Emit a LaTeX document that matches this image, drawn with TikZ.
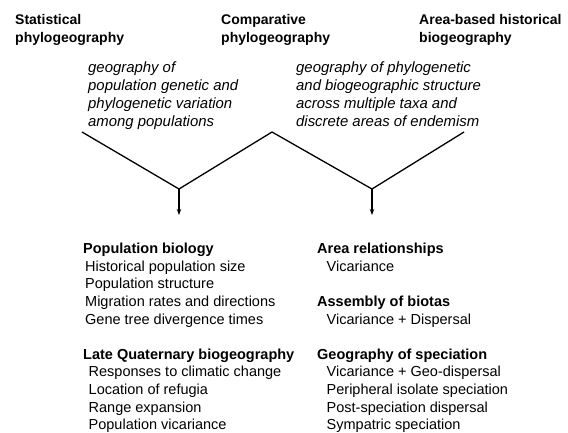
\documentclass[tikz,border=0pt]{standalone}
\usepackage{fontspec}
\setmainfont{Liberation Sans}
\usetikzlibrary{positioning,arrows.meta}
\begin{document}
\begin{tikzpicture}[x=1pt, y=1pt,
		title/.style={anchor=north west, inner sep=0pt, align=left, font=\fontsize{14}{18}\selectfont\bfseries},
		desc/.style={anchor=north west, inner sep=0pt, align=left, font=\fontsize{14.9}{18.3}\selectfont\itshape},
		topic/.style={anchor=north west, inner sep=0pt, align=left, font=\fontsize{14.5}{17.6}\selectfont},
		branch/.style={line width=1.3pt, line join=miter},
		down/.style={line width=1.3pt, -{Stealth[length=6pt, width=4.5pt]}}]
		\useasboundingbox (0,0) rectangle (568,-432);

		\node[title] (stat) at (15,-14) {Statistical\\phylogeography};
		\node[title] (comp) at (221,-14) {Comparative\\phylogeography};
		\node[title] (area) at (419,-14) {Area-based historical\\biogeography};

		\node[desc] (popdesc) at (88,-61) {geography of\\population genetic and\\phylogenetic variation\\among populations};
		\node[desc] (taxadesc) at (296,-61) {geography of phylogenetic\\and biogeographic structure\\across multiple taxa and\\discrete areas of endemism};

		\coordinate (ltop) at (82,-132);
		\coordinate (lvert) at (179,-189);
		\coordinate (mtop) at (272,-132);
		\coordinate (rvert) at (372,-189);
		\coordinate (rtop) at (464,-132);
		\coordinate (lend) at (179,-215);
		\coordinate (rend) at (372,-215);

		\draw[branch] (ltop) -- (lvert) -- (mtop) -- (rvert) -- (rtop);
		\draw[down] (lvert) -- (lend);
		\draw[down] (rvert) -- (rend);

		\node[topic] (popcol) at (83,-243) {\textbf{Population biology}\\
			\hspace*{2pt}Historical population size\\
			\hspace*{2pt}Population structure\\
			\hspace*{2pt}Migration rates and directions\\
			\hspace*{2pt}Gene tree divergence times\\[17.6pt]
			\textbf{Late Quaternary biogeography}\\
			\hspace*{5.5pt}Responses to climatic change\\
			\hspace*{5.5pt}Location of refugia\\
			\hspace*{5.5pt}Range expansion\\
			\hspace*{5.5pt}Population vicariance};
		\node[topic] (areacol) at (317,-243) {\textbf{Area relationships}\\
			\hspace*{9.5pt}Vicariance\\[17.6pt]
			\textbf{Assembly of biotas}\\
			\hspace*{9.5pt}Vicariance + Dispersal\\[17.6pt]
			\textbf{Geography of speciation}\\
			\hspace*{9.5pt}Vicariance + Geo-dispersal\\
			\hspace*{9.5pt}Peripheral isolate speciation\\
			\hspace*{9.5pt}Post-speciation dispersal\\
			\hspace*{9.5pt}Sympatric speciation};
	\end{tikzpicture}
\end{document}
